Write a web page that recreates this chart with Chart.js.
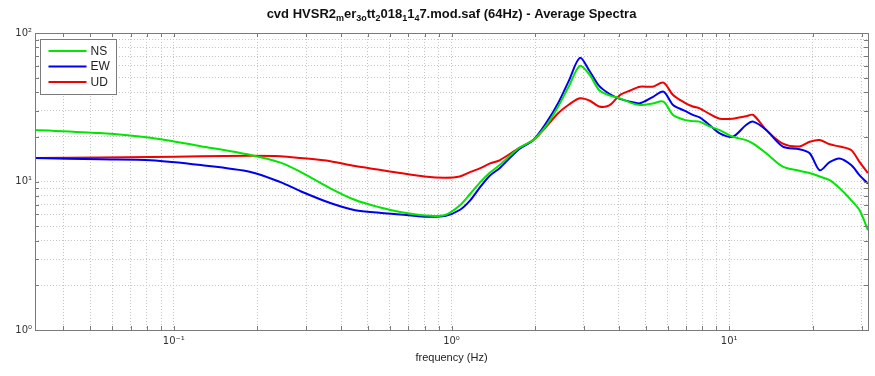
<!DOCTYPE html>
<html>
<head>
<meta charset="utf-8">
<script src="https://cdn.jsdelivr.net/npm/chart.js@4/dist/chart.umd.min.js"></script>
<style>
  html, body { margin: 0; padding: 0; background: #fff; }
  #wrap { width: 875px; height: 376px; }
</style>
</head>
<body>
<div id="wrap"><canvas id="hvsrChart"></canvas></div>
<script>
// frequency (Hz) and average spectra
const freq = [0.0316, 0.054, 0.0825, 0.125, 0.189, 0.242, 0.286, 0.366, 0.45, 0.55,
  0.653, 0.8, 0.947, 1.07, 1.17, 1.27, 1.37, 1.49, 1.75, 1.97,
  2.2, 2.42, 2.65, 2.9, 3.15, 3.4, 3.7, 4.04, 4.4, 4.77,
  5.3, 5.8, 6.28, 6.9, 7.4, 7.83, 8.5, 9.25, 10.3, 11.5,
  12.2, 13.6, 15.6, 17.9, 19.5, 21.2, 23, 25, 27.5, 29.5, 31.6];
const nsAmp = [22.2, 21.2, 19.7, 17.3, 15.1, 13.4, 11.6, 9.0, 7.5, 6.7,
  6.23, 5.9, 5.95, 6.9, 8.3, 9.9, 11.4, 12.9, 16.8, 19.0,
  24, 31.9, 44, 60, 52, 41.3, 38, 36.3, 34, 32.7,
  33.5, 34.5, 28, 26, 25.5, 25.3, 23.5, 22.2, 20, 19.0,
  18, 15.5, 12.6, 11.8, 11.4, 10.8, 10.2, 9.0, 7.5, 6.4, 4.7];
const ewAmp = [14.4, 14.1, 13.9, 12.9, 11.6, 9.9, 8.6, 7.16, 6.4, 6.15,
  6.0, 5.8, 5.86, 6.43, 7.5, 9.2, 10.9, 12.3, 16.5, 19.0,
  25, 33.6, 48, 68, 55, 44, 39, 36, 34.5, 33.6,
  37, 40.3, 32.7, 30, 28.1, 27, 24, 21.1, 20, 24,
  25.3, 22.2, 17.2, 16.5, 15.5, 11.9, 13.5, 14.3, 12.9, 11.0, 9.7];
const udAmp = [14.4, 14.5, 14.6, 14.8, 14.9, 14.8, 14.4, 13.7, 12.7, 12.0,
  11.4, 10.8, 10.6, 10.8, 11.6, 12.3, 13.2, 13.9, 16.8, 19.0,
  23.5, 28.8, 33, 36.3, 35, 32, 32.5, 38.2, 41, 43.5,
  43.5, 46.3, 38.2, 34, 32, 31.1, 28.5, 26.5, 26.5, 27.5,
  28.1, 22.2, 18, 17.2, 18.5, 19.0, 17.8, 17.2, 16.3, 13.5, 11.4];

const seriesNames = ['NS', 'EW', 'UD'];
const seriesColors = ['#00e600', '#0000f0', '#f00000'];

const xMajor = [0.1, 1, 10];
const xMajorLabels = ['10⁻¹', '10⁰', '10¹'];
const yMajor = [1, 10, 100];
const yMajorLabels = ['10⁰', '10¹', '10²'];

// title, with the underscores rendered as subscripts like the original
const titleParts = [['cvd HVSR2', 0], ['m', 1], ['er', 0], ['3o', 1], ['tt', 0], ['2', 1],
  ['018', 0], ['1', 1], ['1', 0], ['4', 1], ['7.mod.saf (64Hz) - Average Spectra', 0]];

function logTicks(min, max) {
  const out = [];
  for (let e = Math.floor(Math.log10(min)); e <= Math.ceil(Math.log10(max)); e++) {
    for (let n = 1; n <= 9; n++) {
      const v = n * Math.pow(10, e);
      if (v >= min * 0.999 && v <= max * 1.001) out.push({ value: v });
    }
  }
  return out;
}

function majorLabel(v, values, labels) {
  const i = values.findIndex(m => Math.abs(v - m) / m < 1e-6);
  return i >= 0 ? labels[i] : '';
}

const frameAndTicks = {
  id: 'frameAndTicks',
  afterDatasetsDraw(chart) {
    const { ctx, chartArea: a, scales } = chart;
    ctx.save();
    ctx.strokeStyle = '#7a7a7a';
    ctx.lineWidth = 1;
    ctx.beginPath();
    scales.x.ticks.forEach(t => {
      const px = Math.round(scales.x.getPixelForValue(t.value)) + 0.5;
      ctx.moveTo(px, a.bottom); ctx.lineTo(px, a.bottom - 4);
      ctx.moveTo(px, a.top); ctx.lineTo(px, a.top + 4);
    });
    scales.y.ticks.forEach(t => {
      const py = Math.round(scales.y.getPixelForValue(t.value)) + 0.5;
      ctx.moveTo(a.left, py); ctx.lineTo(a.left + 4, py);
      ctx.moveTo(a.right, py); ctx.lineTo(a.right - 4, py);
    });
    ctx.stroke();
    ctx.strokeRect(Math.round(a.left) + 0.5, Math.round(a.top) + 0.5,
      Math.round(a.right - a.left), Math.round(a.bottom - a.top));
    ctx.restore();
  }
};

const insideLegend = {
  id: 'insideLegend',
  afterDatasetsDraw(chart) {
    const { ctx, chartArea: a } = chart;
    const x0 = Math.round(a.left) + 5.5, y0 = Math.round(a.top) + 6.5;
    ctx.save();
    ctx.fillStyle = '#fff';
    ctx.fillRect(x0, y0, 76, 55);
    ctx.strokeStyle = '#7a7a7a';
    ctx.lineWidth = 1;
    ctx.strokeRect(x0, y0, 76, 55);
    ctx.font = '12px "Liberation Sans", Arial, sans-serif';
    ctx.textBaseline = 'middle';
    chart.data.datasets.forEach((ds, i) => {
      const y = y0 + 11.5 + i * 15.5;
      ctx.strokeStyle = ds.borderColor;
      ctx.lineWidth = 2;
      ctx.beginPath();
      ctx.moveTo(x0 + 8, y); ctx.lineTo(x0 + 46, y);
      ctx.stroke();
      ctx.fillStyle = '#222';
      ctx.fillText(ds.label, x0 + 50, y + 0.5);
    });
    ctx.restore();
  }
};

const subTitle = {
  id: 'subTitle',
  afterDraw(chart) {
    const { ctx, chartArea: a } = chart;
    const big = 'bold 13px "Liberation Sans", Arial, sans-serif';
    const small = 'bold 9px "Liberation Sans", Arial, sans-serif';
    ctx.save();
    let width = 0;
    titleParts.forEach(([s, sub]) => {
      ctx.font = sub ? small : big;
      width += ctx.measureText(s).width;
    });
    let x = (a.left + a.right) / 2 - width / 2;
    const y = 18;
    ctx.fillStyle = '#111';
    ctx.textBaseline = 'alphabetic';
    titleParts.forEach(([s, sub]) => {
      ctx.font = sub ? small : big;
      ctx.fillText(s, x, sub ? y + 3 : y);
      x += ctx.measureText(s).width;
    });
    ctx.restore();
  }
};

const tickFont = { family: '"DejaVu Sans", sans-serif', size: 10 };

const ctx = document.getElementById('hvsrChart').getContext('2d');

const spectraChart = new Chart(ctx, {
  type: 'line',
  data: {
    labels: freq,
    datasets: [nsAmp, ewAmp, udAmp].map((amp, i) => ({
      label: seriesNames[i],
      data: freq.map((f, k) => ({ x: f, y: amp[k] })),
      borderColor: seriesColors[i],
      borderWidth: 2,
      pointRadius: 0,
      tension: 0.3,
      fill: false
    }))
  },
  options: {
    responsive: true,
    maintainAspectRatio: false,
    animation: false,
    layout: { padding: { top: 33, right: 7, left: 0, bottom: 0 } },
    plugins: {
      legend: { display: false },
      title: { display: false },
      tooltip: { enabled: false }
    },
    scales: {
      x: {
        type: 'logarithmic',
        min: Math.pow(10, -1.5),
        max: Math.pow(10, 1.5),
        afterBuildTicks: s => { s.ticks = logTicks(s.min, s.max); },
        afterFit: s => { s.height = 46; },
        ticks: {
          autoSkip: false,
          maxRotation: 0,
          padding: 5,
          color: '#333',
          font: tickFont,
          callback: v => majorLabel(v, xMajor, xMajorLabels)
        },
        grid: { color: '#c4c4c4', drawTicks: false },
        border: { display: false, dash: [1, 2] },
        title: {
          display: true,
          text: 'frequency (Hz)',
          color: '#222',
          font: { family: '"Liberation Sans", Arial, sans-serif', size: 11 },
          padding: { top: 0, bottom: 11 }
        }
      },
      y: {
        type: 'logarithmic',
        min: 1,
        max: 100,
        afterBuildTicks: s => { s.ticks = logTicks(s.min, s.max); },
        afterFit: s => { s.width = 35; },
        ticks: {
          autoSkip: false,
          padding: 3,
          color: '#333',
          font: tickFont,
          callback: v => majorLabel(v, yMajor, yMajorLabels)
        },
        grid: { color: '#c4c4c4', drawTicks: false },
        border: { display: false, dash: [1, 2] }
      }
    }
  },
  plugins: [frameAndTicks, insideLegend, subTitle]
});
</script>
</body>
</html>
